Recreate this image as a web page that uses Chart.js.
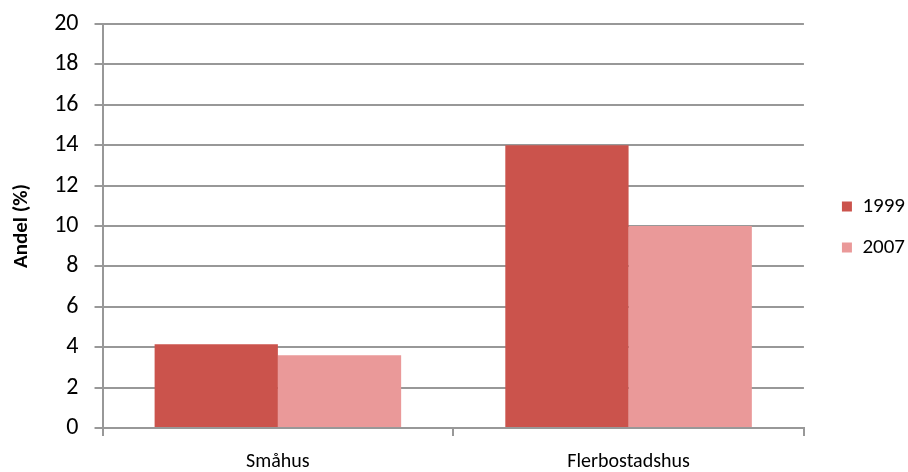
<!DOCTYPE html>
<html>
<head>
<meta charset="utf-8">
<script src="https://cdn.jsdelivr.net/npm/chart.js@4"></script>
<style>
  body { margin: 0; background: #fff; }
</style>
</head>
<body>
<canvas id="chartCanvas" width="908" height="472"></canvas>
<script>
const categories = ["Småhus", "Flerbostadshus"];
const years = ["1999", "2007"];
const values1999 = [4.15, 14];
const values2007 = [3.6, 10];
const colors = ["#CB534C", "#EA9999"];

const gridColor = "#989898";
const fontFamily = "Calibri, Carlito, 'Open Sans', sans-serif";

// nudge the legend block right of the plot and up a little
const legendShift = {
    id: "legendShift",
    afterLayout(chart) {
        const lg = chart.legend;
        lg.left += 18;
        lg.right += 18;
        lg.top -= 21;
        lg.bottom -= 21;
    }
};

let ctx = document.querySelector("#chartCanvas");

let graphBars = new Chart(ctx, {
    type: "bar",
    data: {
        labels: categories,
        datasets: [
            { label: years[0], data: values1999, backgroundColor: colors[0] },
            { label: years[1], data: values2007, backgroundColor: colors[1] }
        ]
    },
    options: {
        responsive: false,
        animation: false,
        layout: {
            padding: { top: 24, right: 11, left: 9, bottom: 0 }
        },
        datasets: {
            bar: { barPercentage: 1, categoryPercentage: 0.703 }
        },
        scales: {
            x: {
                afterFit: (scale) => { scale.height = 44; },
                grid: {
                    offset: true,
                    drawOnChartArea: false,
                    color: gridColor,
                    lineWidth: 2,
                    tickLength: 8
                },
                border: { color: gridColor, width: 2 },
                ticks: {
                    color: "#000",
                    padding: 16,
                    font: { family: fontFamily, size: 20, lineHeight: 1 }
                }
            },
            y: {
                min: 0,
                max: 20,
                afterFit: (scale) => { scale.paddingTop = 0; },
                ticks: {
                    stepSize: 2,
                    color: "#000",
                    padding: 16,
                    font: { family: fontFamily, size: 24 }
                },
                grid: {
                    color: gridColor,
                    lineWidth: 2,
                    tickLength: 8
                },
                border: { color: gridColor, width: 2 },
                title: {
                    display: true,
                    text: "Andel (%)",
                    color: "#000",
                    padding: { top: 0, bottom: 4 },
                    font: { family: fontFamily, size: 21, weight: "bold" }
                }
            }
        },
        plugins: {
            tooltip: { enabled: false },
            legend: {
                display: true,
                position: "right",
                labels: {
                    boxWidth: 10,
                    boxHeight: 10,
                    padding: 20,
                    color: "#000",
                    font: { family: fontFamily, size: 21 }
                }
            }
        }
    },
    plugins: [legendShift]
});
</script>
</body>
</html>
